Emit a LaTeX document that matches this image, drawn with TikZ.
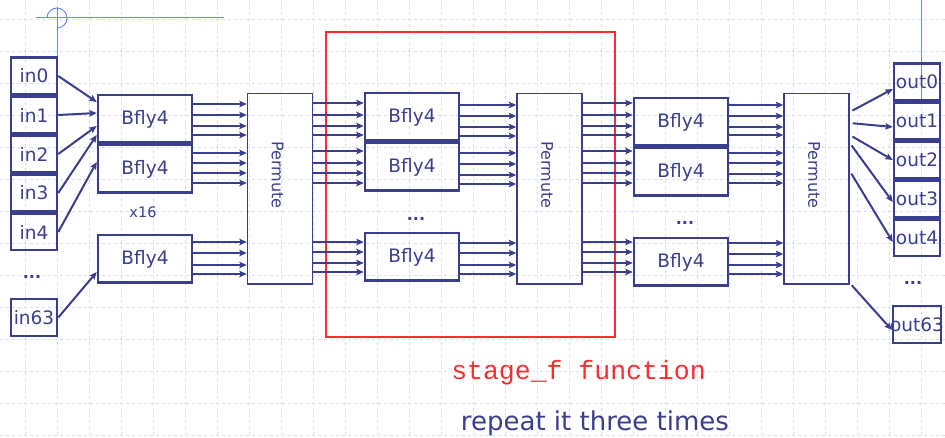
\documentclass[tikz,border=0pt]{standalone}
\usepackage{fontspec}
\setmainfont{DejaVu Sans}
\newfontfamily\codefont{Liberation Mono}
\usetikzlibrary{arrows.meta}
\definecolor{navy}{RGB}{58,62,140}
\definecolor{gridblue}{RGB}{212,222,246}
\definecolor{markblue}{RGB}{110,140,240}
\definecolor{stagered}{RGB}{255,45,45}

\begin{document}
\begin{tikzpicture}[x=1pt, y=-1pt]
\tikzset{
  gridline/.style={gridblue, line width=0.8pt, dash pattern=on 3pt off 3pt},
  iobox/.style={draw=navy, line width=2.5pt, minimum width=46pt, minimum height=36.5pt,
    inner xsep=-3pt, text=navy, font=\fontsize{18.5pt}{20pt}\selectfont},
  bfly/.style={draw=navy, line width=2.5pt, minimum width=94pt, minimum height=47.5pt,
    text=navy, font=\fontsize{18.5pt}{20pt}\selectfont},
  perm/.style={draw=navy, line width=1.5pt, minimum width=65pt, minimum height=190.5pt},
  permtext/.style={rotate=-90, text=navy, font=\fontsize{16pt}{18pt}\selectfont},
  dots/.style={text=navy, font=\fontsize{16pt}{18pt}\selectfont\bfseries},
  stageframe/.style={draw=stagered, line width=1.2pt, minimum width=289pt, minimum height=305pt},
  wire/.style={draw=navy, line width=2pt, -{Stealth[length=7.5pt, width=6.5pt, inset=1.5pt]}}
}
\useasboundingbox (0,0) rectangle (945,438);

\foreach \x in {0,...,28}
  \draw[gridline] (25+32*\x,0) -- (25+32*\x,438);
\foreach \y in {0,...,13}
  \draw[gridline] (0,19+32*\y) -- (945,19+32*\y);
\draw[markblue, line width=1pt] (36,18) -- (224,18);
\draw[markblue, line width=1pt] (57,7) -- (57,57);
\draw[markblue, line width=1pt] (47,18) arc[start angle=180, end angle=-90, radius=10pt];
\draw[markblue, line width=1pt] (921,0) -- (921,100);

\node[stageframe] (stage) at (470.5,184.5) {};

\foreach \n/\y in {0/76,1/115,2/154,3/193,4/232,63/317.5}
  \node[iobox] (in\n) at (34,\y) {in\n};
\foreach \n/\y in {0/82,1/121,2/160,3/199,4/238,63/324.5}
  \node[iobox] (out\n) at (917,\y) {out\n};

\foreach \c/\x/\y in {a/145/119,b/412/117,c/681/122} {
  \node[bfly] (bf\c1) at (\x,\y) {Bfly4};
  \node[bfly] (bf\c2) at (\x,\y+50) {Bfly4};
  \node[bfly] (bf\c3) at (\x,\y+140) {Bfly4};
}
\foreach \c/\x in {a/280,b/549.5,c/816.5} {
  \node[perm] (perm\c) at (\x,189) {};
  \node[permtext] (ptxt\c) at ([xshift=-2.5pt, yshift=14pt]perm\c.center) {Permute};
}

\node[dots] (indots) at (32,277) {...};
\node[dots] (bfbdots) at (416,219) {...};
\node[dots] (bfcdots) at (685,223) {...};
\node[dots] (outdots) at (913,283) {...};
\node[text=navy, font=\fontsize{14.5pt}{16pt}\selectfont] (times) at (143,212) {x16};

\foreach \n/\t/\y in {0/bfa1/102,1/bfa1/113,2/bfa1/126,3/bfa1/135,4/bfa2/162,63/bfa3/272}
  \draw[wire] (in\n.east) -- (\t.west |- 0,\y);

\foreach \s/\y in {bfa1/104,bfa1/115,bfa1/126,bfa1/135,bfa2/153,bfa2/163,bfa2/173,bfa2/183,
    bfa3/242,bfa3/253,bfa3/265,bfa3/274}
  \draw[wire] (\s.east |- 0,\y) -- (perma.west |- 0,\y);
\foreach \t/\y in {bfb1/103,bfb1/115,bfb1/126,bfb1/135,bfb2/151,bfb2/163,bfb2/173,bfb2/183,
    bfb3/242,bfb3/252,bfb3/263,bfb3/272}
  \draw[wire] (perma.east |- 0,\y) -- (\t.west |- 0,\y);
\foreach \s/\y in {bfb1/105,bfb1/116,bfb1/127,bfb1/136,bfb2/153,bfb2/164,bfb2/175,bfb2/184,
    bfb3/243,bfb3/253,bfb3/265,bfb3/274}
  \draw[wire] (\s.east |- 0,\y) -- (permb.west |- 0,\y);
\foreach \t/\y in {bfc1/103,bfc1/115,bfc1/126,bfc1/135,bfc2/151,bfc2/163,bfc2/173,bfc2/183,
    bfc3/242,bfc3/252,bfc3/263,bfc3/272}
  \draw[wire] (permb.east |- 0,\y) -- (\t.west |- 0,\y);
\foreach \s/\y in {bfc1/105,bfc1/116,bfc1/127,bfc1/135,bfc2/153,bfc2/163,bfc2/174,bfc2/183,
    bfc3/243,bfc3/254,bfc3/265,bfc3/274}
  \draw[wire] (\s.east |- 0,\y) -- (permc.west |- 0,\y);

\foreach \n/\ys/\yt in {0/112/89,1/123/127,2/135/160,3/143/202,4/171/242,63/283/330}
  \draw[wire, shorten <=3pt] (permc.east |- 0,\ys) -- (out\n.west |- 0,\yt);

\node[font={\codefont\fontsize{26.5pt}{30pt}\selectfont}, text=stagered, anchor=base]
  (stagename) at (578.5,379) {stage\_f function};
\node[font=\fontsize{26pt}{30pt}\selectfont, text=navy, anchor=base]
  (repeatnote) at (595,430) {repeat it three times};
\end{tikzpicture}
\end{document}
